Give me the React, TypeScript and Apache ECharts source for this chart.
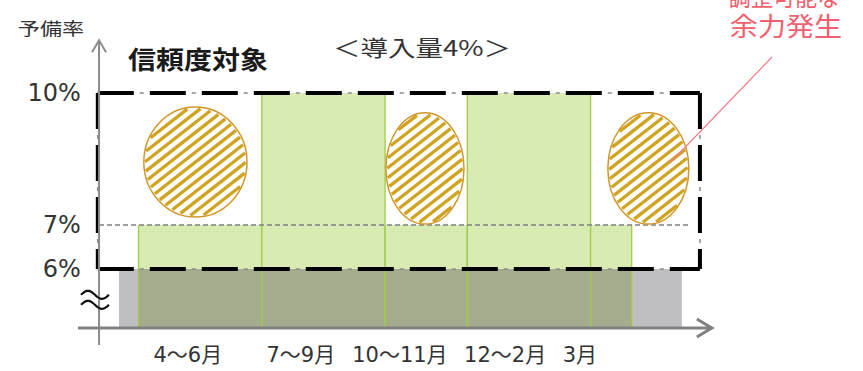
import React, { useEffect, useRef } from "react";
import * as echarts from "echarts";

// ---- data (months on x, reserve margin % on y) ----
const categories = ["4～6月", "7～9月", "10～11月", "12～2月", "3月"];
const barMonths = [3, 3, 2, 3, 1];
const barTops = [7, 10, 7, 10, 7];
const labelPositions = [1.2, 3.95, 6.36, 8.92, 10.74];
const yTickValues = [6, 7, 10];
const reliabilityUpper = 10;
const reliabilityLower = 6;
const lowerReserve = 7;
const axisBase = 4.66;
const grayBand = [-0.475, 13.22];
const boxRange = [-0.99, 13.66];
const line7Range = [-0.96, 13.42];
const ellipseLeft = [0.13, 6.02, 11.42];
const ellipseRight = [2.64, 7.92, 13.39];
const ellipseBottom = [7.18, 7.02, 7.02];
const ellipseTop = [9.68, 9.55, 9.55];
const yAxisAt = -0.96;
const yAxisRange = [4.27, 11.2];
const xAxisRange = [-1.47, 13.95];
const breakMark = [-1.06, 5.3];

const barStarts = barMonths.map((_, i) => barMonths.slice(0, i).reduce((a, b) => a + b, 0));
const barData = barMonths.map((m, i) => [barStarts[i], barStarts[i] + m, barTops[i]]);
const ellipseData = ellipseLeft.map((l, i) => [l, ellipseRight[i], ellipseBottom[i], ellipseTop[i]]);

const LATIN = '"DejaVu Sans", "Noto Sans CJK JP", sans-serif';
const CJK = '"Noto Sans CJK JP", "DejaVu Sans", sans-serif';

function stripes(cx: number, cy: number, rx: number, ry: number) {
  const th = (38 * Math.PI) / 180;
  const dx = Math.cos(th), dy = -Math.sin(th);
  const nx = Math.sin(th), ny = Math.cos(th);
  const irx = rx - 1.3, iry = ry - 1.3;
  const A = (dx * dx) / (irx * irx) + (dy * dy) / (iry * iry);
  const out: any[] = [];
  const period = 7.8;
  const maxT = Math.max(rx, ry);
  for (let t = -Math.floor(maxT / period) * period; t <= maxT; t += period) {
    const B = 2 * t * ((nx * dx) / (irx * irx) + (ny * dy) / (iry * iry));
    const C = t * t * ((nx * nx) / (irx * irx) + (ny * ny) / (iry * iry)) - 1;
    const disc = B * B - 4 * A * C;
    if (disc <= 0) continue;
    const sq = Math.sqrt(disc);
    const s1 = (-B - sq) / (2 * A);
    const s2 = (-B + sq) / (2 * A);
    out.push({
      type: "line",
      shape: {
        x1: cx + t * nx + s1 * dx,
        y1: cy + t * ny + s1 * dy,
        x2: cx + t * nx + s2 * dx,
        y2: cy + t * ny + s2 * dy,
      },
      style: { stroke: "#D0A420", lineWidth: 3.3 },
    });
  }
  return out;
}

function textEl(text: string, x: number, y: number, size: number, color: string, opts: any = {}) {
  return {
    type: "text",
    x,
    y,
    scaleX: opts.scaleX ?? 1,
    silent: true,
    style: {
      text,
      fontSize: size,
      fontFamily: opts.font ?? CJK,
      fontWeight: opts.bold ? "bold" : "normal",
      fill: color,
      textAlign: "center",
      textVerticalAlign: "middle",
      align: "center",
      verticalAlign: "middle",
    },
  };
}

export default function App() {
  const ref = useRef<HTMLDivElement>(null);
  useEffect(() => {
    if (!ref.current) return;
    const chart = echarts.init(ref.current, null, { renderer: "svg" });
    const option: any = {
      animation: false,
      backgroundColor: "#ffffff",
      grid: { left: 76.85, right: 149.1, top: 40.2, bottom: 31.6, containLabel: false, outerBoundsMode: "none" },
      xAxis: {
        type: "value",
        min: -1.5,
        max: 14,
        axisLine: { show: false },
        axisTick: { show: false },
        splitLine: { show: false },
        axisLabel: {
          customValues: labelPositions,
          formatter: (v: number) => {
            const i = labelPositions.findIndex((p) => Math.abs(p - v) < 1e-6);
            return i >= 0 ? categories[i] : "";
          },
          fontSize: 21,
          fontFamily: LATIN,
          color: "#333333",
          margin: 5,
          hideOverlap: false,
        },
      },
      yAxis: {
        type: "value",
        min: 4.4,
        max: 11.2,
        offset: -22,
        axisLine: { show: false },
        axisTick: { show: false },
        splitLine: { show: false },
        axisLabel: {
          customValues: yTickValues,
          formatter: "{value}%",
          fontSize: 24,
          fontFamily: LATIN,
          color: "#333333",
          margin: 18,
          hideOverlap: false,
        },
      },
      series: [
        {
          type: "custom",
          name: "対象外",
          coordinateSystem: "cartesian2d",
          silent: true,
          clip: false,
          z: 1,
          data: [[grayBand[0], grayBand[1]]],
          encode: { x: [0, 1] },
          renderItem: (params: any, api: any) => {
            const p0 = api.coord([api.value(0), reliabilityLower]);
            const p1 = api.coord([api.value(1), axisBase]);
            return {
              type: "rect",
              shape: { x: p0[0], y: p0[1], width: p1[0] - p0[0], height: p1[1] - p0[1] },
              style: { fill: "#BFBFC2" },
            };
          },
        },
        {
          type: "custom",
          name: "予備率",
          coordinateSystem: "cartesian2d",
          silent: true,
          clip: false,
          z: 2,
          data: barData,
          encode: { x: [0, 1], y: 2 },
          renderItem: (params: any, api: any) => {
            const s = api.value(0), e = api.value(1), t = api.value(2);
            const bl = api.coord([s, axisBase]);
            const mid = api.coord([e, reliabilityLower]);
            const tr = api.coord([e, t]);
            const edge = { stroke: "#9FCC45", lineWidth: 1.3 };
            return {
              type: "group",
              children: [
                { type: "rect", shape: { x: bl[0], y: tr[1], width: tr[0] - bl[0], height: mid[1] - tr[1] }, style: { fill: "#D8EBB3" } },
                { type: "rect", shape: { x: bl[0], y: mid[1], width: mid[0] - bl[0], height: bl[1] - mid[1] }, style: { fill: "#A5AB8D" } },
                { type: "line", shape: { x1: bl[0], y1: tr[1], x2: bl[0], y2: bl[1] }, style: edge },
                { type: "line", shape: { x1: tr[0], y1: tr[1], x2: tr[0], y2: bl[1] }, style: edge },
              ],
            };
          },
        },
        {
          type: "custom",
          name: "7%",
          coordinateSystem: "cartesian2d",
          silent: true,
          clip: false,
          z: 3,
          data: [[line7Range[0], line7Range[1], lowerReserve]],
          encode: { x: [0, 1], y: 2 },
          renderItem: (params: any, api: any) => {
            const a = api.coord([api.value(0), api.value(2)]);
            const b = api.coord([api.value(1), api.value(2)]);
            return {
              type: "line",
              shape: { x1: a[0], y1: a[1], x2: b[0], y2: b[1] },
              style: { stroke: "#7F7F7F", lineWidth: 1.3, lineDash: [5, 3] },
            };
          },
        },
        {
          type: "custom",
          name: "余力",
          coordinateSystem: "cartesian2d",
          silent: true,
          clip: false,
          z: 4,
          data: ellipseData,
          encode: { x: [0, 1], y: [2, 3] },
          renderItem: (params: any, api: any) => {
            const a = api.coord([api.value(0), api.value(3)]);
            const b = api.coord([api.value(1), api.value(2)]);
            const cx = (a[0] + b[0]) / 2, cy = (a[1] + b[1]) / 2;
            const rx = (b[0] - a[0]) / 2, ry = (b[1] - a[1]) / 2;
            return {
              type: "group",
              children: [
                { type: "ellipse", shape: { cx, cy, rx, ry }, style: { fill: "#FFFFFF" } },
                ...stripes(cx, cy, rx, ry),
                { type: "ellipse", shape: { cx, cy, rx, ry }, style: { fill: "none", stroke: "#D4962A", lineWidth: 1.5 } },
              ],
            };
          },
        },
        {
          type: "custom",
          name: "信頼度対象",
          coordinateSystem: "cartesian2d",
          silent: true,
          clip: false,
          z: 5,
          data: [[boxRange[0], boxRange[1], reliabilityLower, reliabilityUpper]],
          encode: { x: [0, 1], y: [2, 3] },
          renderItem: (params: any, api: any) => {
            const tl = api.coord([api.value(0), api.value(3)]);
            const br = api.coord([api.value(1), api.value(2)]);
            const segs = [
              [tl[0], tl[1], br[0], tl[1]],
              [tl[0], br[1], br[0], br[1]],
              [tl[0], tl[1], tl[0], br[1]],
              [br[0], tl[1], br[0], br[1]],
            ];
            const children: any[] = [];
            segs.forEach((s) => {
              children.push({
                type: "line",
                shape: { x1: s[0], y1: s[1], x2: s[2], y2: s[3] },
                style: { stroke: "#8A8A8A", lineWidth: 1.5, lineDash: [4, 48], lineDashOffset: 10 },
              });
              children.push({
                type: "line",
                shape: { x1: s[0], y1: s[1], x2: s[2], y2: s[3] },
                style: { stroke: "#000000", lineWidth: 4, lineDash: [36, 16] },
              });
            });
            return { type: "group", children };
          },
        },
        {
          type: "custom",
          name: "axes",
          coordinateSystem: "cartesian2d",
          silent: true,
          clip: false,
          z: 6,
          data: [[yAxisAt, axisBase]],
          encode: { x: 0, y: 1 },
          renderItem: (params: any, api: any) => {
            const y0 = api.coord([yAxisAt, yAxisRange[0]]);
            const y1 = api.coord([yAxisAt, yAxisRange[1]]);
            const x0 = api.coord([xAxisRange[0], axisBase]);
            const x1 = api.coord([xAxisRange[1], axisBase]);
            const ys = { stroke: "#8C8C8C", lineWidth: 2, fill: "none" };
            const xs = { stroke: "#808080", lineWidth: 3, fill: "none" };
            return {
              type: "group",
              children: [
                { type: "line", shape: { x1: y0[0], y1: y0[1], x2: y1[0], y2: y1[1] }, style: ys },
                { type: "polyline", shape: { points: [[y1[0] - 7, y1[1] + 12], [y1[0], y1[1]], [y1[0] + 7, y1[1] + 12]] }, style: ys },
                { type: "line", shape: { x1: x0[0], y1: x0[1], x2: x1[0] - 2, y2: x1[1] }, style: xs },
                { type: "polyline", shape: { points: [[x1[0] - 15, x1[1] - 9], [x1[0], x1[1]], [x1[0] - 15, x1[1] + 9]] }, style: xs },
              ],
            };
          },
        },
        {
          type: "custom",
          name: "break",
          coordinateSystem: "cartesian2d",
          silent: true,
          clip: false,
          z: 7,
          data: [breakMark],
          encode: { x: 0, y: 1 },
          renderItem: (params: any, api: any) => {
            const c = api.coord([api.value(0), api.value(1)]);
            const children: any[] = [];
            [-5, 5].forEach((off) => {
              const pts: number[][] = [];
              for (let k = 0; k <= 24; k++) {
                const u = k / 24;
                pts.push([c[0] - 14 + 28 * u, c[1] + off - 4 * Math.sin(2 * Math.PI * u)]);
              }
              children.push({ type: "polyline", shape: { points: pts }, style: { stroke: "#111111", lineWidth: 2.2, fill: "none" } });
            });
            return { type: "group", children };
          },
        },
      ],
      graphic: [
        textEl("予備率", 51, 28, 17, "#333333", { scaleX: 1.3 }),
        textEl("＜導入量4%＞", 422, 46, 22, "#333333", { scaleX: 1.25 }),
        textEl("信頼度対象", 198, 58, 25, "#1A1A1A", { scaleX: 1.12, bold: true }),
        textEl("対象外", 404, 302, 25, "#262626", { scaleX: 1.13 }),
        textEl("調整可能な", 784, -5, 26, "#F0606E", { scaleX: 0.85 }),
        textEl("余力発生", 786, 25, 26, "#F0606E", { scaleX: 1.08 }),
        {
          type: "line",
          silent: true,
          shape: { x1: 772, y1: 57, x2: 670, y2: 163 },
          style: { stroke: "#F07C88", lineWidth: 1.2 },
          z: 10,
        },
      ],
    };
    chart.setOption(option);
    return () => chart.dispose();
  }, []);
  return (
    <div
      ref={ref}
      style={{ position: "fixed", left: 0, top: 0, width: 863, height: 371, background: "#fff" }}
    />
  );
}
